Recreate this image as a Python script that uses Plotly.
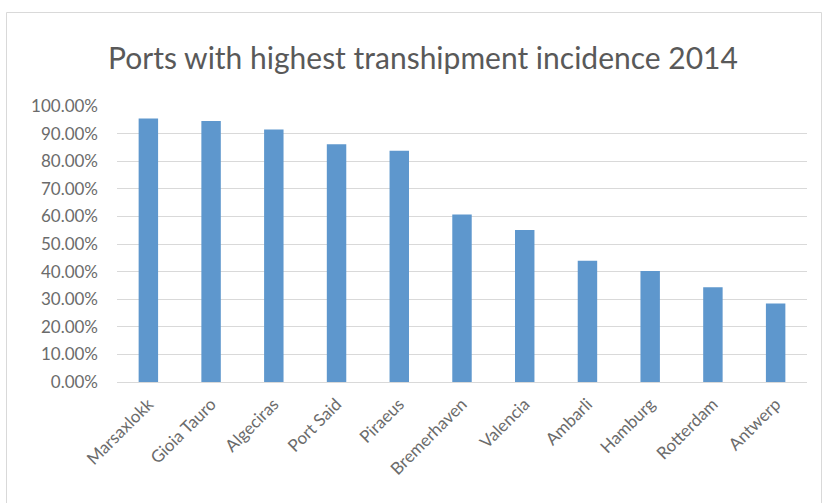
import plotly.graph_objects as go

ports = ["Marsaxlokk", "Gioia Tauro", "Algeciras", "Port Said", "Piraeus", "Bremerhaven",
         "Valencia", "Ambarli", "Hamburg", "Rotterdam", "Antwerp"]
incidence = [0.955, 0.946, 0.915, 0.861, 0.838, 0.607, 0.551, 0.439, 0.402, 0.343, 0.284]
y_ticks = [i / 10 for i in range(11)]

W, H = 827, 503
L, R, T, B = 117, 20, 106, 121
pw, ph = W - L - R, H - T - B

def px_x(x):
    return (x - L) / pw

def px_y(y):
    return (H - B - y) / ph

fig = go.Figure(go.Bar(x=ports, y=incidence, marker=dict(color="#5E97CD", line=dict(width=0))))

fig.update_layout(
    width=W, height=H,
    margin=dict(l=L, r=R, t=T, b=B),
    paper_bgcolor="white", plot_bgcolor="white",
    bargap=0.69,
    showlegend=False,
    font=dict(family="Lato, Open Sans, sans-serif", color="#595959", size=15),
    title=dict(text="Ports with highest transhipment incidence 2014",
               x=423 / W, xanchor="center",
               y=1 - 58 / H, yanchor="middle",
               font=dict(size=30, color="#595959", family="Lato, Open Sans, sans-serif")),
    xaxis=dict(tickangle=-45, showgrid=False, showline=False, ticks="", automargin=False,
               ticklabelstandoff=8,
               tickfont=dict(size=17, color="#6b6b6b")),
    yaxis=dict(range=[0, 1], tickvals=y_ticks, tickformat=".2%", automargin=False,
               showgrid=True, gridcolor="#D9D9D9", gridwidth=1,
               zeroline=True, zerolinecolor="#D9D9D9", zerolinewidth=1,
               showline=False, ticks="", ticklabelstandoff=18,
               tickfont=dict(size=17, color="#6b6b6b")),
    shapes=[dict(type="rect", xref="paper", yref="paper",
                 x0=px_x(6.5), x1=px_x(821.5), y0=px_y(520), y1=px_y(12.5),
                 line=dict(color="#D9D9D9", width=1), fillcolor="rgba(0,0,0,0)", layer="below")],
)

fig.write_html("out.html", config={"displayModeBar": False},
               post_script="document.body.style.margin='0';document.body.style.overflow='hidden';")
